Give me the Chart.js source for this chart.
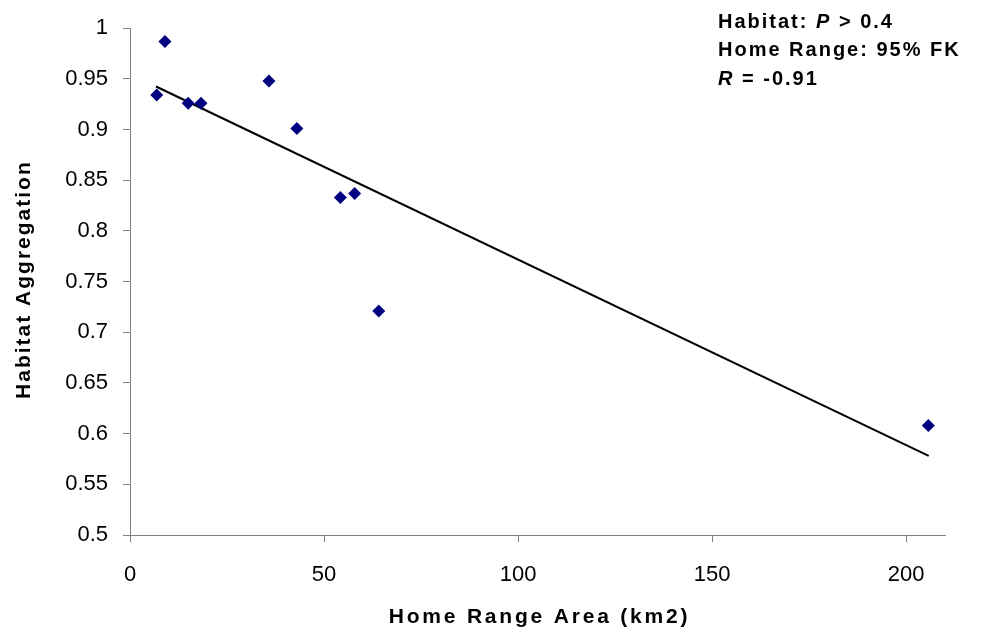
<!DOCTYPE html>
<html>
<head>
<meta charset="utf-8">
<script src="https://cdn.jsdelivr.net/npm/chart.js@4/dist/chart.umd.min.js"></script>
<style>
  html, body { margin: 0; padding: 0; background: #fff; }
  #wrap { width: 993px; height: 637px; }
</style>
</head>
<body>
<div id="wrap"><canvas id="chart" width="993" height="637"></canvas></div>
<script>
// home range area (km2) vs habitat aggregation
const homeRange = [6.9, 9.0, 15.0, 18.3, 35.8, 43.0, 54.2, 57.9, 64.1, 205.7];
const aggregation = [0.934, 0.987, 0.926, 0.926, 0.948, 0.901, 0.833, 0.837, 0.721, 0.608];

// trend line end points
const trendX = [6.7, 205.8];
const trendY = [0.9425, 0.578];

const xTicks = [0, 50, 100, 150, 200];
const yTicks = [0.5, 0.55, 0.6, 0.65, 0.7, 0.75, 0.8, 0.85, 0.9, 0.95, 1];

const noteLines = [
    [["Habitat: ", false], ["P", true], [" > 0.4", false]],
    [["Home Range: 95% FK", false]],
    [["R", true], [" = -0.91", false]]
];

const FONT = "Arial, 'Liberation Sans', sans-serif";
const AXIS = "#808080";

// axis titles + note drawn with letter spacing
const textPlugin = {
    id: "texts",
    afterDraw(chart){
        const ctx = chart.ctx;
        const a = chart.chartArea;
        ctx.save();
        ctx.fillStyle = "#000";
        ctx.textAlign = "center";
        ctx.textBaseline = "middle";
        ctx.font = "bold 21px " + FONT;
        ctx.letterSpacing = "2.8px";
        ctx.fillText("Home Range Area (km2)", (a.left + a.right)/2 + 2, 617);

        ctx.letterSpacing = "2px";
        ctx.save();
        ctx.translate(24, (a.top + a.bottom)/2);
        ctx.rotate(-Math.PI/2);
        ctx.fillText("Habitat Aggregation", 2, 0);
        ctx.restore();

        ctx.textAlign = "left";
        noteLines.forEach((parts, i)=>{
            let x = 718;
            const y = 22 + i*28.5;
            parts.forEach(([txt, it])=>{
                ctx.font = (it ? "italic " : "") + "bold 20px " + FONT;
                ctx.fillText(txt, x, y);
                x += ctx.measureText(txt).width;
            });
        });
        ctx.restore();
    }
};

const ctx = document.getElementById("chart").getContext("2d");
new Chart(ctx, {
    type: "scatter",
    data: {
        datasets: [
            {
                label: "Sites",
                data: homeRange.map((x, i)=>({x: x, y: aggregation[i]})),
                pointStyle: "rectRot",
                pointRadius: 6.5,
                pointHoverRadius: 6.5,
                backgroundColor: "#000080",
                borderColor: "#000080",
                borderWidth: 0,
                order: 1
            },
            {
                type: "line",
                label: "Trend",
                data: trendX.map((x, i)=>({x: x, y: trendY[i]})),
                borderColor: "#000",
                borderWidth: 2,
                pointRadius: 0,
                fill: false,
                order: 2
            }
        ]
    },
    options: {
        responsive: false,
        animation: false,
        layout: { padding: { left: 0, top: 25, right: 48, bottom: 0 } },
        plugins: { legend: { display: false }, tooltip: { enabled: false } },
        scales: {
            x: {
                type: "linear",
                min: 0, max: 210,
                afterBuildTicks: s => { s.ticks = xTicks.map(v=>({value: v})); },
                afterFit: s => { s.height = 102; },
                grid: { drawOnChartArea: false, tickLength: 7, color: AXIS },
                border: { color: AXIS, width: 1 },
                ticks: { color: "#000", padding: 20, font: { family: FONT, size: 22 }, maxRotation: 0 }
            },
            y: {
                min: 0.5, max: 1,
                afterBuildTicks: s => { s.ticks = yTicks.map(v=>({value: v})); },
                afterFit: s => { s.width = 130; },
                grid: { drawOnChartArea: false, tickLength: 7, color: AXIS },
                border: { color: AXIS, width: 1 },
                ticks: {
                    color: "#000", padding: 15, font: { family: FONT, size: 22 },
                    callback: v => String(Number(v.toFixed(2)))
                }
            }
        }
    },
    plugins: [textPlugin]
});
</script>
</body>
</html>
